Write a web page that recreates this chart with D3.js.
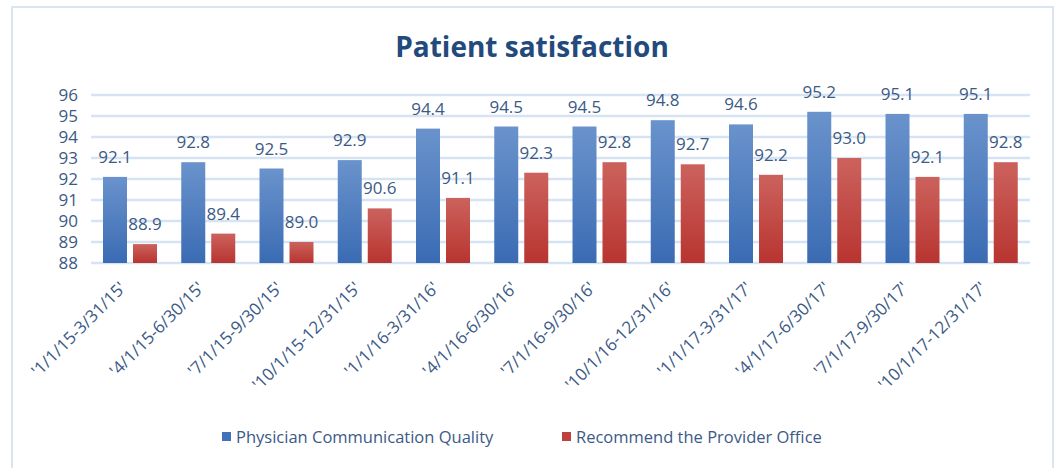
<!doctype html>
<html lang="en">
<head>
  <meta charset="utf-8">
  <title>Patient satisfaction</title>
  <style>
    body { margin: 0; background: #fff; }
    text { font-family: "Open Sans", "Noto Sans", sans-serif; }
  </style>
</head>
<body>
<svg id="chart" width="1056" height="468"></svg>
<script src="https://d3js.org/d3.v7.min.js"></script>
<script>
    var periods = ["'1/1/15-3/31/15'", "'4/1/15-6/30/15'", "'7/1/15-9/30/15'", "'10/1/15-12/31/15'",
                   "'1/1/16-3/31/16'", "'4/1/16-6/30/16'", "'7/1/16-9/30/16'", "'10/1/16-12/31/16'",
                   "'1/1/17-3/31/17'", "'4/1/17-6/30/17'", "'7/1/17-9/30/17'", "'10/1/17-12/31/17'"];
    var physician = [92.1, 92.8, 92.5, 92.9, 94.4, 94.5, 94.5, 94.8, 94.6, 95.2, 95.1, 95.1];
    var recommend = [88.9, 89.4, 89.0, 90.6, 91.1, 92.3, 92.8, 92.7, 92.2, 93.0, 92.1, 92.8];
    var seriesNames = ["Physician Communication Quality", "Recommend the Provider Office"];
    var yTicks = [88, 89, 90, 91, 92, 93, 94, 95, 96];

    var svg = d3.select("#chart");
    var textColor = "#3b5a86";

    // outer frame
    svg.append("rect").attr("x", 12).attr("y", 7).attr("width", 1041).attr("height", 470)
        .attr("fill", "#fff").attr("stroke", "#dbe5f1").attr("stroke-width", 2);

    // gradients
    var defs = svg.append("defs");
    function grad(id, top, bottom) {
        var g = defs.append("linearGradient").attr("id", id)
            .attr("x1", 0).attr("y1", 0).attr("x2", 0).attr("y2", 1);
        g.append("stop").attr("offset", "0%").attr("stop-color", top);
        g.append("stop").attr("offset", "100%").attr("stop-color", bottom);
    }
    grad("gBlue", "#6a93cc", "#3a6bb3");
    grad("gRed", "#cc625d", "#b83430");

    var x = d3.scaleBand().domain(periods).range([91, 1030]);
    var y = d3.scaleLinear().domain([88, 96]).range([263, 95]);

    // gridlines
    svg.append("g").selectAll("line").data(yTicks).join("line")
        .attr("x1", 91).attr("x2", 1030)
        .attr("y1", function(d) { return y(d); }).attr("y2", function(d) { return y(d); })
        .attr("stroke", "#d6e3f3").attr("stroke-width", 2.5);

    // y axis labels
    var yAxis = svg.append("g").attr("transform", "translate(78,0)")
        .call(d3.axisLeft(y).tickValues(yTicks).tickSize(0).tickPadding(0));
    yAxis.select(".domain").remove();
    yAxis.selectAll("text").attr("font-size", 17).attr("fill", textColor)
        .attr("font-family", "'Open Sans', sans-serif");

    var bw = 24, gap = 6, off = 12;
    var barData = [physician, recommend];
    var fills = ["url(#gBlue)", "url(#gRed)"];

    barData.forEach(function(vals, s) {
        var g = svg.append("g");
        g.selectAll("rect").data(vals).join("rect")
            .attr("x", function(d, i) { return x(periods[i]) + off + s * (bw + gap); })
            .attr("y", function(d) { return y(d); })
            .attr("width", bw)
            .attr("height", function(d) { return y(88) - y(d); })
            .attr("fill", fills[s]);
        g.selectAll("text").data(vals).join("text")
            .attr("x", function(d, i) { return x(periods[i]) + off + s * (bw + gap) + bw / 2; })
            .attr("y", function(d) { return y(d) - 14; })
            .attr("text-anchor", "middle")
            .attr("font-size", 17).attr("fill", textColor)
            .text(function(d) { return d.toFixed(1); });
    });

    // x labels rotated
    svg.append("g").selectAll("text").data(periods).join("text")
        .attr("transform", function(d) {
            return "translate(" + (x(d) + x.bandwidth() / 2 - 3) + ",289) rotate(-45)";
        })
        .attr("text-anchor", "end")
        .attr("font-size", 17).attr("fill", textColor)
        .text(function(d) { return d; });

    // title
    svg.append("text").attr("x", 532).attr("y", 57).attr("text-anchor", "middle")
        .attr("font-size", 28).attr("font-weight", "bold").attr("fill", "#234a7d")
        .text("Patient satisfaction");

    // legend
    var legendX = [222, 562];
    var legendCol = ["#3f72b8", "#bf403c"];
    seriesNames.forEach(function(name, i) {
        svg.append("rect").attr("x", legendX[i]).attr("y", 432).attr("width", 9).attr("height", 9)
            .attr("fill", legendCol[i]);
        svg.append("text").attr("x", legendX[i] + 14).attr("y", 443)
            .attr("font-size", 16.5).attr("fill", textColor).text(name);
    });
</script>
</body>
</html>
